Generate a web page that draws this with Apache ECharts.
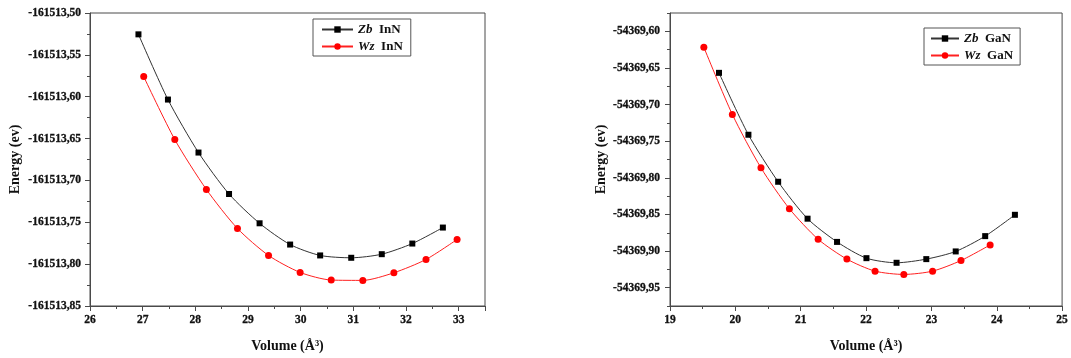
<!DOCTYPE html>
<html>
<head>
<meta charset="utf-8">
<script src="https://cdn.jsdelivr.net/npm/echarts@6/dist/echarts.min.js"></script>
<style>
html,body{margin:0;padding:0;background:#fff;}
#c{width:1071px;height:358px;}
</style>
</head>
<body>
<div id="c"></div>
<script>
// ---- data ----
const zbInnVol = [26.92, 27.48, 28.06, 28.64, 29.22, 29.80, 30.37, 30.96, 31.54, 32.12, 32.70];
const zbInnE = [-161513.5255, -161513.6034, -161513.6667, -161513.7162, -161513.7512, -161513.7766, -161513.7896, -161513.7924, -161513.7881, -161513.7754, -161513.7563];
const wzInnVol = [27.02, 27.61, 28.21, 28.80, 29.39, 29.99, 30.58, 31.18, 31.77, 32.38, 32.97];
const wzInnE = [-161513.5760, -161513.6512, -161513.7108, -161513.7574, -161513.7896, -161513.8099, -161513.8190, -161513.8194, -161513.8103, -161513.7944, -161513.7705];

const zbGanVol = [19.75, 20.20, 20.655, 21.105, 21.556, 22.006, 22.467, 22.922, 23.372, 23.823, 24.278];
const zbGanE = [-54369.6567, -54369.7412, -54369.8054, -54369.8558, -54369.8875, -54369.9097, -54369.9160, -54369.9110, -54369.9005, -54369.8796, -54369.8505];
const wzGanVol = [19.518, 19.954, 20.392, 20.827, 21.267, 21.707, 22.138, 22.578, 23.018, 23.453, 23.899];
const wzGanE = [-54369.6218, -54369.7135, -54369.7864, -54369.8422, -54369.8839, -54369.9110, -54369.9274, -54369.9319, -54369.9274, -54369.9129, -54369.8916];

// tick label values
const innXTicks = [26, 27, 28, 29, 30, 31, 32, 33];
const innYTicks = [-161513.85, -161513.80, -161513.75, -161513.70, -161513.65, -161513.60, -161513.55, -161513.50];
const ganXTicks = [19, 20, 21, 22, 23, 24, 25];
const ganYTicks = [-54369.95, -54369.90, -54369.85, -54369.80, -54369.75, -54369.70, -54369.65, -54369.60];

const seriesNames = ['Zb InN', 'Wz InN', 'Zb GaN', 'Wz GaN'];

// ---- styling ----
const FONT = 'Liberation Serif';
const TXT = '#111';
const AX = '#4a4a4a';
const pairs = (xs, ys) => xs.map((x, i) => [x, ys[i]]);
const fmtComma = v => v.toFixed(2).replace('.', ',');
const isTick = (ticks, v) => ticks.some(t => Math.abs(t - v) < 1e-6);

const labelFont = {fontFamily: FONT, fontWeight: 'bold', fontSize: 11.5, color: TXT,
  textBorderColor: TXT, textBorderWidth: 0.3};

function xAxis(gridIndex, min, max, ticks) {
  return {
    type: 'value', gridIndex, min, max, interval: 1,
    name: 'Volume (Å³)', nameLocation: 'middle', nameGap: 33,
    nameTextStyle: {fontFamily: FONT, fontWeight: 'bold', fontSize: 14, color: TXT},
    axisLine: {onZero: false, lineStyle: {color: AX, width: 1}},
    axisTick: {show: true, inside: false, length: 5, lineStyle: {color: AX}},
    minorTick: {show: true, splitNumber: 2, length: 3, lineStyle: {color: AX}},
    axisLabel: Object.assign({
      margin: 8,
      showMaxLabel: ticks.indexOf(max) >= 0,
      formatter: v => (isTick(ticks, v) ? String(Math.round(v)) : '')
    }, labelFont),
    splitLine: {show: false}
  };
}

const yName = {fontFamily: FONT, fontWeight: 'bold', fontSize: 14, color: TXT};

const legendText = {
  fontFamily: FONT, fontWeight: 'bold', fontSize: 13, color: TXT,
  rich: {
    i: {fontFamily: FONT, fontWeight: 'bold', fontStyle: 'italic', fontSize: 13, color: TXT},
    n: {fontFamily: FONT, fontWeight: 'bold', fontSize: 13, color: TXT}
  }
};
const legendFmt = name => { const p = name.split(' '); return '{i|' + p[0] + '}  {n|' + p[1] + '}'; };

const option = {
  animation: false,
  backgroundColor: '#fff',
  grid: [
    {left: 90, top: 13, width: 395, height: 294, show: true, borderColor: AX, borderWidth: 1, backgroundColor: 'transparent'},
    {left: 670, top: 13, width: 395, height: 294, show: true, borderColor: AX, borderWidth: 1, backgroundColor: 'transparent'}
  ],
  xAxis: [
    xAxis(0, 26, 33.5, innXTicks),
    xAxis(1, 19, 25, ganXTicks)
  ],
  yAxis: [
    {
      type: 'value', gridIndex: 0, position: 'left', min: -161513.85, max: -161513.50, interval: 0.05,
      name: 'Energy (ev)', nameLocation: 'middle', nameGap: 68, nameTextStyle: yName,
      axisLine: {onZero: false, lineStyle: {color: AX, width: 1}},
      axisTick: {show: true, inside: false, length: 5, lineStyle: {color: AX}},
      minorTick: {show: true, splitNumber: 2, length: 3, lineStyle: {color: AX}},
      axisLabel: Object.assign({margin: 9, formatter: v => (isTick(innYTicks, v) ? fmtComma(v) : '')}, labelFont),
      splitLine: {show: false}
    },
    {
      type: 'value', gridIndex: 1, position: 'left', min: -54369.975, max: -54369.575, interval: 0.025,
      name: 'Energy (ev)', nameLocation: 'middle', nameGap: 62, nameTextStyle: yName,
      axisLine: {onZero: false, lineStyle: {color: AX, width: 1}},
      axisTick: {show: true, inside: false, length: 5, customValues: ganYTicks, lineStyle: {color: AX}},
      axisLabel: Object.assign({margin: 10, customValues: ganYTicks, formatter: v => (isTick(ganYTicks, v) ? fmtComma(v) : '')}, labelFont),
      splitLine: {show: false}
    },
    {
      type: 'value', gridIndex: 1, position: 'left', offset: 0, min: -54369.975, max: -54369.575, interval: 0.025,
      axisLine: {show: false},
      axisTick: {show: true, inside: false, length: 3, lineStyle: {color: AX}},
      axisLabel: {show: false},
      splitLine: {show: false}
    }
  ],
  legend: [
    {
      data: [seriesNames[0], seriesNames[1]],
      orient: 'vertical', left: 313, top: 19,
      padding: [4, 8, 3, 8], itemGap: 4, itemWidth: 31, itemHeight: 8,
      borderColor: '#555', borderWidth: 1, backgroundColor: '#fff',
      textStyle: legendText, formatter: legendFmt
    },
    {
      data: [seriesNames[2], seriesNames[3]],
      orient: 'vertical', left: 924, top: 28,
      padding: [4, 7, 3, 6], itemGap: 4, itemWidth: 28, itemHeight: 8,
      borderColor: '#555', borderWidth: 1, backgroundColor: '#fff',
      textStyle: legendText, formatter: legendFmt
    }
  ],
  series: [
    {name: seriesNames[0], type: 'line', xAxisIndex: 0, yAxisIndex: 0, data: pairs(zbInnVol, zbInnE),
     smooth: 0.25, symbol: 'rect', symbolSize: 6, showAllSymbol: true,
     lineStyle: {color: '#333', width: 1}, itemStyle: {color: '#000'}},
    {name: seriesNames[1], type: 'line', xAxisIndex: 0, yAxisIndex: 0, data: pairs(wzInnVol, wzInnE),
     smooth: 0.25, symbol: 'circle', symbolSize: 7, showAllSymbol: true,
     lineStyle: {color: '#ff2020', width: 1}, itemStyle: {color: '#ff0000'}},
    {name: seriesNames[2], type: 'line', xAxisIndex: 1, yAxisIndex: 1, data: pairs(zbGanVol, zbGanE),
     smooth: 0.25, symbol: 'rect', symbolSize: 6, showAllSymbol: true,
     lineStyle: {color: '#333', width: 1}, itemStyle: {color: '#000'}},
    {name: seriesNames[3], type: 'line', xAxisIndex: 1, yAxisIndex: 1, data: pairs(wzGanVol, wzGanE),
     smooth: 0.25, symbol: 'circle', symbolSize: 7, showAllSymbol: true,
     lineStyle: {color: '#ff2020', width: 1}, itemStyle: {color: '#ff0000'}}
  ]
};

const chart = echarts.init(document.getElementById('c'), null, {renderer: 'canvas'});
chart.setOption(option);
</script>
</body>
</html>
